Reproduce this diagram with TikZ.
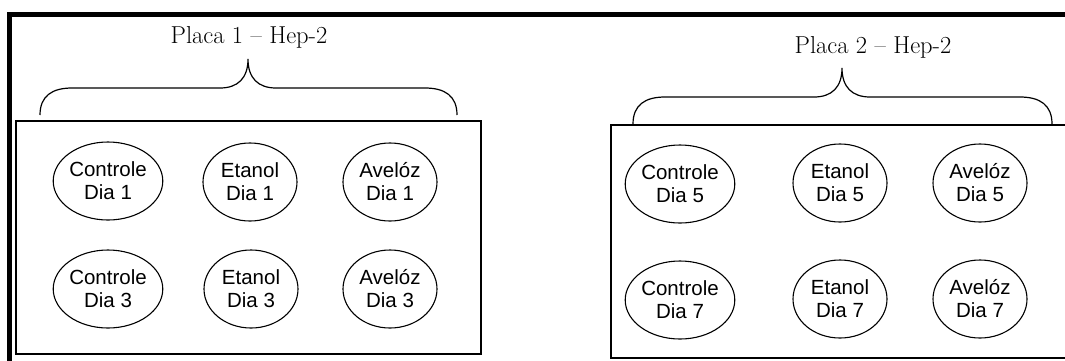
\documentclass[tikz,border=0pt]{standalone}
\usepackage{fontspec}
\newfontfamily\wellfont{Liberation Sans}
\usetikzlibrary{shapes}

\begin{document}
\begin{tikzpicture}[x=1pt,y=-1pt,
  well/.style={shape=ellipse,draw=black,line width=1.1pt,minimum width=94pt,minimum height=78pt,inner sep=0pt,align=center,font=\wellfont\fontsize{20.5}{23}\selectfont},
  plate/.style={draw=black,line width=1.4pt},
  bracket/.style={draw=black,line width=1.2pt},
  frame/.style={draw=black,line width=5pt},
  title/.style={font=\fontsize{24.5}{28}\selectfont}]
\useasboundingbox (0,0) rectangle (1065,360);
\clip (0,0) rectangle (1065,360);

\draw[frame] (9.5,370) -- (9.5,14.5) -- (1075,14.5);

\draw[plate] (16,121) rectangle (481,354);
\draw[plate] (611,125) rectangle (1080,358);

\node[title] (t1) at (249,37) {Placa 1 -- Hep-2};
\node[title] (t2) at (873,47) {Placa 2 -- Hep-2};

\draw[bracket] (40,115) .. controls (40,96) and (52,88) .. (72,88) -- (220,88) .. controls (238,88) and (248,78) .. (248,59) .. controls (248,78) and (258,88) .. (276,88) -- (425,88) .. controls (445,88) and (457,96) .. (457,115);
\draw[bracket] (633,124) .. controls (633,105) and (645,97) .. (665,97) -- (814,97) .. controls (832,97) and (842,87) .. (842,68) .. controls (842,87) and (852,97) .. (870,97) -- (1020,97) .. controls (1040,97) and (1052,105) .. (1052,124);

\node[well] (0) at (108,181) {Controle\\Dia 1};
\node[well] (1) at (250,182) {Etanol\\Dia 1};
\node[well] (2) at (390,182) {Avelóz\\Dia 1};
\node[well] (3) at (108,289) {Controle\\Dia 3};
\node[well] (4) at (251,289) {Etanol\\Dia 3};
\node[well] (5) at (390,289) {Avelóz\\Dia 3};
\node[well] (6) at (680,184) {Controle\\Dia 5};
\node[well] (7) at (840,183) {Etanol\\Dia 5};
\node[well] (8) at (980,183) {Avelóz\\Dia 5};
\node[well] (9) at (680,300) {Controle\\Dia 7};
\node[well] (10) at (840,299) {Etanol\\Dia 7};
\node[well] (11) at (980,299) {Avelóz\\Dia 7};
\end{tikzpicture}
\end{document}
